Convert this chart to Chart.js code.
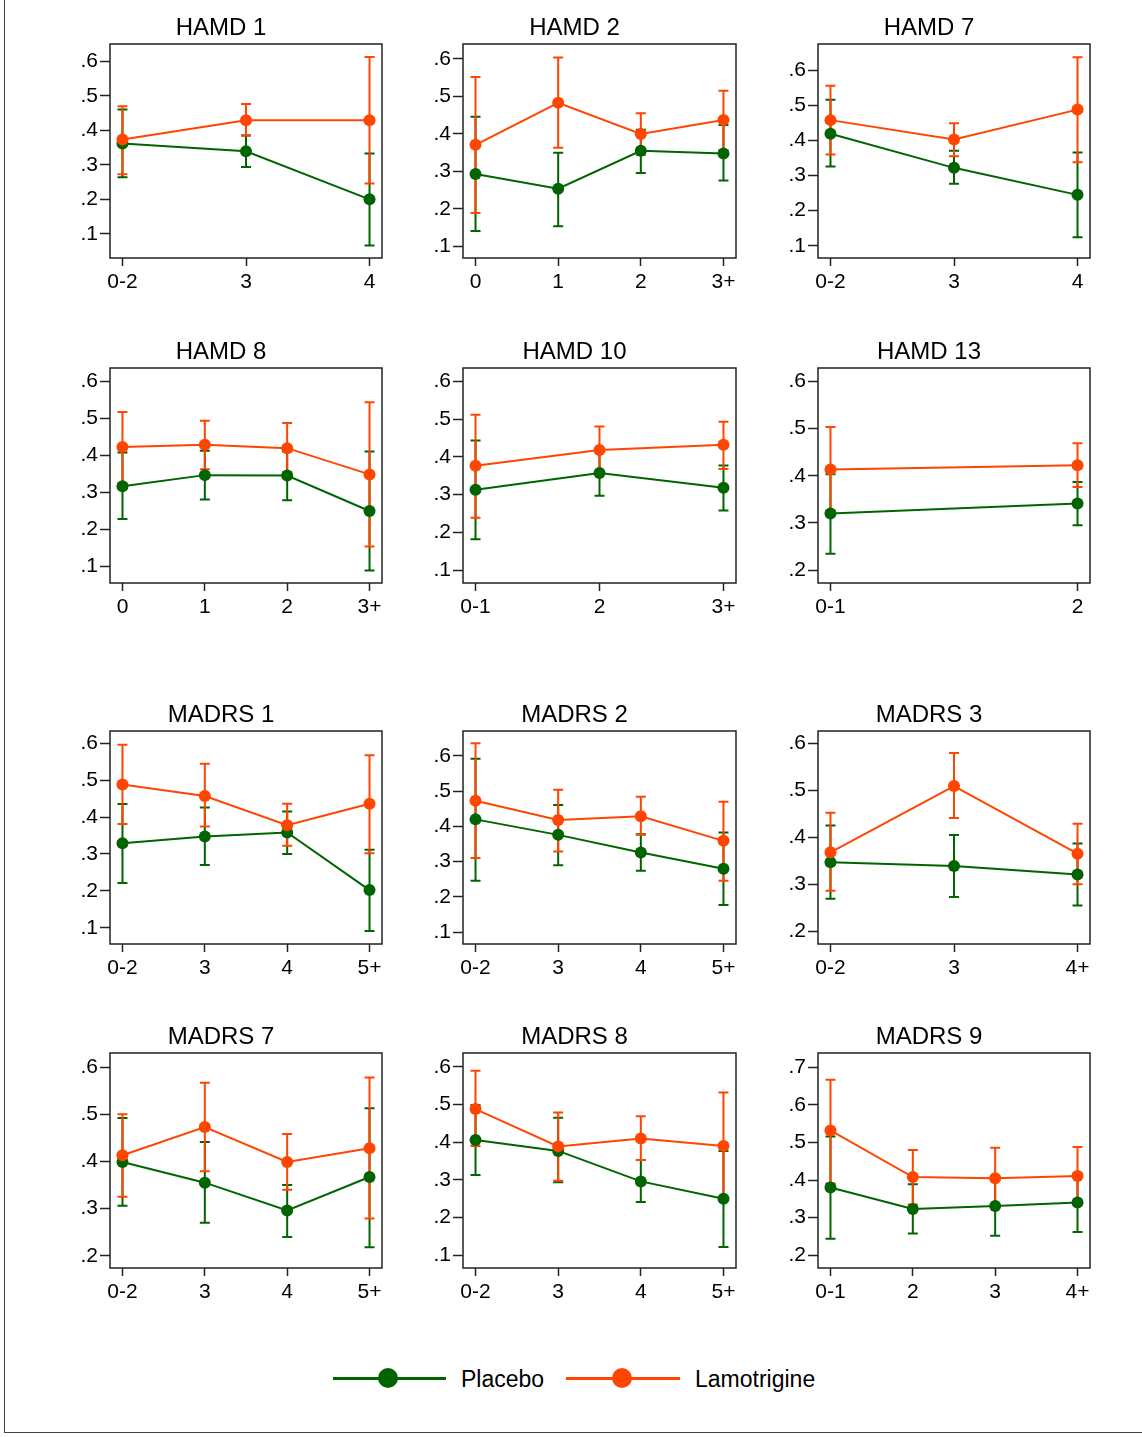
<!DOCTYPE html>
<html>
<head>
<meta charset="utf-8">
<script src="https://cdn.jsdelivr.net/npm/chart.js@4.4.0/dist/chart.umd.min.js"></script>
<style>
  body { margin: 0; background: #fff; font-family: "Liberation Sans", Arial, sans-serif; }
  #page { position: relative; width: 1142px; height: 1437px; overflow: hidden; background: #fff; }
  #frame { position: absolute; left: 4px; top: -2px; width: 1150px; height: 1434px;
           border-left: 1px solid #444; border-bottom: 1px solid #444; }
  canvas { position: absolute; }
  .lline { position: absolute; height: 3px; }
  .ldot { position: absolute; width: 20px; height: 20px; border-radius: 50%; }
  .ltext { position: absolute; font-size: 23px; line-height: 26px; color: #000; }
</style>
</head>
<body>
<div id="page">
  <div id="frame"></div>
  <div class="lline" style="left:333px; top:1377px; width:113px; background:#006400"></div>
  <div class="ldot" style="left:378px; top:1368px; background:#006400"></div>
  <div class="ltext" style="left:461px; top:1366px">Placebo</div>
  <div class="lline" style="left:566px; top:1377px; width:114px; background:#ff4500"></div>
  <div class="ldot" style="left:612px; top:1368px; background:#ff4500"></div>
  <div class="ltext" style="left:695px; top:1366px">Lamotrigine</div>
</div>
<script>
// panel titles and x categories
const titles = ["HAMD 1", "HAMD 2", "HAMD 7", "HAMD 8", "HAMD 10", "HAMD 13",
                "MADRS 1", "MADRS 2", "MADRS 3", "MADRS 7", "MADRS 8", "MADRS 9"];
const categories = [
  ["0-2", "3", "4"],
  ["0", "1", "2", "3+"],
  ["0-2", "3", "4"],
  ["0", "1", "2", "3+"],
  ["0-1", "2", "3+"],
  ["0-1", "2"],
  ["0-2", "3", "4", "5+"],
  ["0-2", "3", "4", "5+"],
  ["0-2", "3", "4+"],
  ["0-2", "3", "4", "5+"],
  ["0-2", "3", "4", "5+"],
  ["0-1", "2", "3", "4+"]
];

// Placebo: estimate and CI
const placeboMean = [
  [.362, .339, .200], [.293, .254, .355, .348], [.419, .322, .245],
  [.316, .346, .345, .249], [.313, .357, .318], [.320, .341],
  [.329, .347, .358, .202], [.420, .376, .326, .280], [.347, .339, .321],
  [.399, .355, .296, .367], [.406, .377, .296, .250], [.380, .323, .331, .340]
];
const placeboLow = [
  [.264, .294, .066], [.141, .154, .296, .276], [.326, .277, .124],
  [.227, .280, .278, .088], [.182, .297, .258], [.235, .295],
  [.221, .270, .300, .091], [.246, .290, .274, .177], [.269, .273, .255],
  [.306, .270, .240, .218], [.313, .294, .241, .122], [.244, .258, .252, .262]
];
const placeboHigh = [
  [.460, .385, .333], [.446, .350, .411, .424], [.516, .371, .366],
  [.407, .412, .410, .410], [.443, .415, .377], [.403, .387],
  [.435, .426, .415, .311], [.592, .461, .378, .383], [.425, .405, .387],
  [.492, .441, .350, .513], [.499, .465, .353, .377], [.516, .389, .410, .418]
];

// Lamotrigine: estimate and CI
const lamoMean = [
  [.373, .429, .429], [.371, .483, .400, .437], [.458, .403, .488],
  [.422, .428, .419, .348], [.376, .418, .432], [.413, .422],
  [.488, .457, .378, .436], [.473, .418, .429, .359], [.368, .509, .365],
  [.413, .473, .399, .428], [.488, .389, .410, .390], [.532, .408, .405, .411]
];
const lamoLow = [
  [.273, .385, .246], [.189, .363, .344, .356], [.360, .355, .338],
  [.325, .362, .353, .153], [.239, .360, .368], [.325, .376],
  [.381, .374, .322, .302], [.310, .329, .376, .246], [.286, .441, .300],
  [.325, .379, .340, .279], [.390, .298, .353, .250], [.391, .335, .330, .335]
];
const lamoHigh = [
  [.470, .476, .612], [.552, .604, .455, .515], [.556, .449, .637],
  [.517, .493, .487, .543], [.511, .480, .493], [.503, .469],
  [.596, .544, .436, .567], [.636, .504, .484, .470], [.452, .579, .429],
  [.500, .567, .458, .578], [.590, .479, .469, .532], [.667, .480, .486, .488]
];

// y axis ticks and ranges
const yTicks = [
  [.1, .2, .3, .4, .5, .6], [.1, .2, .3, .4, .5, .6], [.1, .2, .3, .4, .5, .6],
  [.1, .2, .3, .4, .5, .6], [.1, .2, .3, .4, .5, .6], [.2, .3, .4, .5, .6],
  [.1, .2, .3, .4, .5, .6], [.1, .2, .3, .4, .5, .6], [.2, .3, .4, .5, .6],
  [.2, .3, .4, .5, .6], [.1, .2, .3, .4, .5, .6], [.2, .3, .4, .5, .6, .7]
];
const yMin = [.030, .069, .065, .054, .066, .173, .056, .066, .173, .174, .066, .166];
const yMax = [.650, .640, .675, .636, .635, .628, .633, .671, .626, .630, .637, .738];

// panel grid (plot box edges)
const colLeft = [110, 463, 818];
const colRight = [382, 736, 1090];
const rowTop = [44, 368, 731, 1053];
const rowBottom = [258, 583, 944, 1268];

const GREEN = "#006400";
const ORANGE = "#ff4500";
const FONT = "'Liberation Sans', Arial, sans-serif";

// box around plot area + CI caps drawn through the scales
const boxAndBars = {
  id: "boxAndBars",
  beforeDatasetsDraw(chart) {
    const { ctx, chartArea: a, scales: { x, y } } = chart;
    ctx.save();
    ctx.strokeStyle = "#222";
    ctx.lineWidth = 1.5;
    ctx.strokeRect(a.left, a.top, a.right - a.left, a.bottom - a.top);
    chart.data.datasets.forEach(ds => {
      ctx.strokeStyle = ds.borderColor;
      ctx.lineWidth = 2;
      ds.low.forEach((lo, i) => {
        const px = x.getPixelForValue(i);
        const p1 = y.getPixelForValue(lo);
        const p2 = y.getPixelForValue(ds.high[i]);
        ctx.beginPath();
        ctx.moveTo(px, p1); ctx.lineTo(px, p2);
        ctx.moveTo(px - 5, p1); ctx.lineTo(px + 5, p1);
        ctx.moveTo(px - 5, p2); ctx.lineTo(px + 5, p2);
        ctx.stroke();
      });
    });
    ctx.restore();
  }
};

const page = document.getElementById("page");

titles.forEach((title, k) => {
  const c = k % 3, r = Math.floor(k / 3);
  const left = colLeft[c] - 50, top = rowTop[r] - 36;
  const w = colRight[c] - colLeft[c] + 70;
  const h = rowBottom[r] - rowTop[r] + 76;

  const cv = document.createElement("canvas");
  cv.width = w; cv.height = h;
  cv.style.left = left + "px"; cv.style.top = top + "px";
  page.appendChild(cv);

  const cats = categories[k];
  const n = cats.length;
  const pad = 0.0505 * (n - 1);
  const pts = arr => arr.map((v, i) => ({ x: i, y: v }));

  new Chart(cv, {
    type: "line",
    data: {
      datasets: [
        {
          label: "Placebo", data: pts(placeboMean[k]),
          low: placeboLow[k], high: placeboHigh[k],
          borderColor: GREEN, backgroundColor: GREEN, pointBackgroundColor: GREEN,
          borderWidth: 2, pointRadius: 6, pointBorderWidth: 0, order: 1
        },
        {
          label: "Lamotrigine", data: pts(lamoMean[k]),
          low: lamoLow[k], high: lamoHigh[k],
          borderColor: ORANGE, backgroundColor: ORANGE, pointBackgroundColor: ORANGE,
          borderWidth: 2, pointRadius: 6, pointBorderWidth: 0, order: 0
        }
      ]
    },
    options: {
      responsive: false,
      animation: false,
      layout: { padding: { left: 0, right: 20, top: 0, bottom: 0 } },
      plugins: {
        legend: { display: false },
        tooltip: { enabled: false },
        title: {
          display: true, text: title, color: "#000",
          font: { family: FONT, size: 24, weight: "normal", lineHeight: 1.2 },
          padding: { top: 6, bottom: 1.2 }
        }
      },
      scales: {
        x: {
          type: "linear", min: -pad, max: n - 1 + pad,
          afterBuildTicks: axis => { axis.ticks = cats.map((_, i) => ({ value: i })); },
          afterFit: axis => { axis.height = 40; },
          grid: { drawOnChartArea: false, drawTicks: true, tickLength: 8, tickColor: "#222", tickWidth: 1.5 },
          border: { display: false },
          ticks: { color: "#000", padding: 4, maxRotation: 0, font: { family: FONT, size: 21 },
                   callback: v => cats[v] }
        },
        y: {
          min: yMin[k], max: yMax[k],
          afterBuildTicks: axis => { axis.ticks = yTicks[k].map(v => ({ value: v })); },
          afterFit: axis => { axis.width = 50; },
          grid: { drawOnChartArea: false, drawTicks: true, tickLength: 10, tickColor: "#222", tickWidth: 1.5 },
          border: { display: false },
          ticks: { color: "#000", padding: 2, font: { family: FONT, size: 21 },
                   callback: v => v.toFixed(1).replace(/^0/, "") }
        }
      }
    },
    plugins: [boxAndBars]
  });
});
</script>
</body>
</html>
